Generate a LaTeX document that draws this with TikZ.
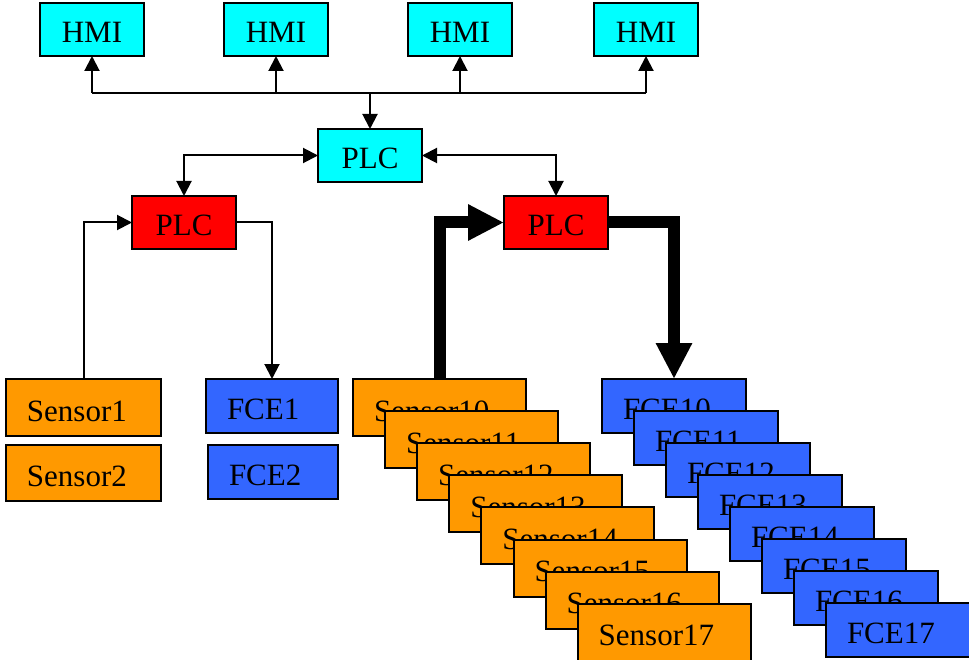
\documentclass[tikz,border=0pt]{standalone}
\usepackage{fontspec}
\setmainfont{Liberation Serif}
\usetikzlibrary{arrows.meta}
\definecolor{hmicyan}{HTML}{00FFFF}
\definecolor{plcred}{HTML}{FF0000}
\definecolor{sensororange}{HTML}{FF9900}
\definecolor{fceblue}{HTML}{3366FF}
\begin{document}
\begin{tikzpicture}[x=1pt,y=-1pt,
  unit/.style={draw=black,line width=2pt,anchor=north west,inner ysep=0pt,outer sep=0pt,
    text height=27pt,text depth=0pt,font=\fontsize{31}{36}\selectfont},
  cbox/.style={unit,minimum width=104,minimum height=53,inner xsep=0pt,align=center},
  lbox/.style n args={2}{unit,text width=#1-42,inner xsep=21pt,minimum height=#2,align=left},
  hmi/.style={cbox,fill=hmicyan},
  plc/.style={cbox,fill=plcred},
  sensor/.style 2 args={lbox={#1}{#2},fill=sensororange},
  fce/.style 2 args={lbox={#1}{#2},fill=fceblue},
  link/.style={line width=2pt,-{Triangle[length=15pt,width=15pt]}},
  duplex/.style={line width=2pt,{Triangle[length=15pt,width=15pt]}-{Triangle[length=15pt,width=15pt]}},
  trunk/.style={line width=12pt,-{Triangle[length=36pt,width=34pt]}}]
\useasboundingbox (0,0) rectangle (969,660);

% operator stations
\node[hmi] (h1) at (40,3) {HMI};
\node[hmi] (h2) at (224,3) {HMI};
\node[hmi] (h3) at (408,3) {HMI};
\node[hmi] (h4) at (594,3) {HMI};

% controllers
\node[hmi] (plc0) at (318,129) {PLC};
\node[plc] (plc1) at (132,196) {PLC};
\node[plc] (plc2) at (504,196) {PLC};

% small field group
\node[sensor={155}{57}] (s1) at (6,379) {Sensor1};
\node[sensor={155}{56}] (s2) at (6,445) {Sensor2};
\node[fce={132}{54}] (f1) at (206,379) {FCE1};
\node[fce={130}{54}] (f2) at (208,445) {FCE2};

% large field group, stacked
\foreach \i in {0,...,7}{
  \node[sensor={173}{57}] (s1\i) at ({353+32.1*\i},{379+32.1*\i}) {Sensor1\i};
}
\foreach \i in {0,...,7}{
  \node[fce={144}{54}] (f1\i) at ({602+32*\i},{379+32*\i}) {FCE1\i};
}

% supervisory bus
\coordinate (bus) at (plc0.north |- 0,93);
\draw[line width=2pt] (h1.south |- bus) -- (h4.south |- bus);
\foreach \h in {h1,h2,h3,h4}{
  \draw[link] (\h.south |- bus) -- (\h.south);
}
\draw[link] (bus) -- (plc0.north);

% controller links
\draw[duplex] (plc0.west) -| (plc1.north);
\draw[duplex] (plc0.east) -| (plc2.north);

% small loop
\draw[link] (s1.north) |- (plc1.west);
\draw[link] (plc1.east) -| (f1.north);

% large loop
\draw[trunk] (s10.north) |- (plc2.west);
\draw[trunk] (plc2.east) -| (f10.north);
\end{tikzpicture}
\end{document}
